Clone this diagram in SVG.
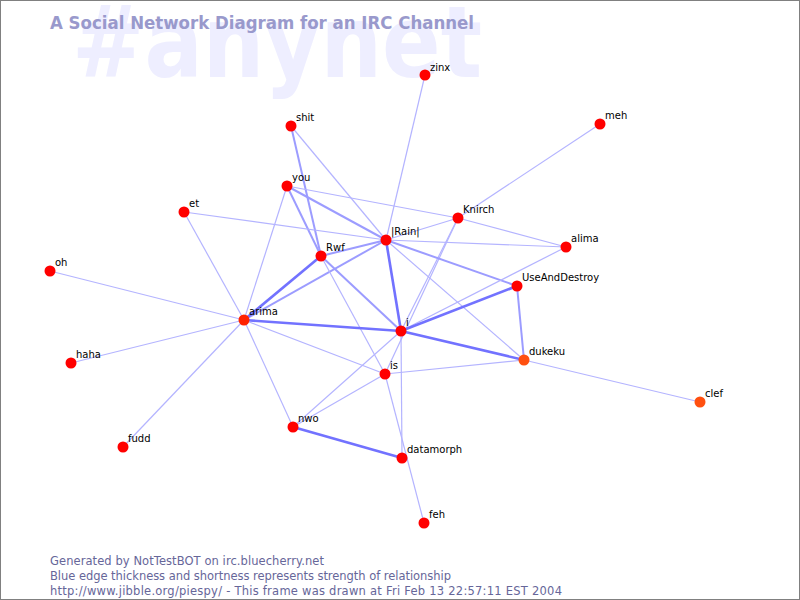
<svg xmlns="http://www.w3.org/2000/svg" width="800" height="600" viewBox="0 0 800 600">
<style>
.bg{font-family:"DejaVu Sans",sans-serif;font-weight:bold;font-size:100px;fill:#eeeeff}
.title{font-family:"DejaVu Sans",sans-serif;font-weight:bold;font-size:17px;fill:#9999cc}
.foot{font-family:"DejaVu Sans",sans-serif;font-size:11.5px;fill:#666699}
.lbl{font-family:"DejaVu Sans",sans-serif;font-size:10px;fill:#000}
.n{fill:#ff0000}
.o{fill:#ff5010}
.a{fill:#ff2200}
.e1{stroke:#b4b4ff;stroke-width:1.2;fill:none}
.e2{stroke:#9c9cff;stroke-width:2;fill:none}
.e3{stroke:#7272ff;stroke-width:2.6;fill:none}
</style>
<rect x="0" y="0" width="800" height="600" fill="#ffffff"/>
<rect x="0.5" y="0.5" width="799" height="599" fill="none" stroke="#808080"/>
<text class="bg" x="72" y="77" textLength="410" lengthAdjust="spacingAndGlyphs">#anynet</text>
<text class="title" x="50" y="29" textLength="424" lengthAdjust="spacingAndGlyphs">A Social Network Diagram for an IRC Channel</text>
<g id="edges">
<line class="e1" x1="425" y1="75" x2="386" y2="240"/>
<line class="e1" x1="291" y1="126" x2="386" y2="240"/>
<line class="e2" x1="291" y1="126" x2="321" y2="256"/>
<line class="e1" x1="600" y1="124" x2="458" y2="218"/>
<line class="e1" x1="287" y1="186" x2="458" y2="218"/>
<line class="e2" x1="287" y1="186" x2="386" y2="240"/>
<line class="e2" x1="287" y1="186" x2="321" y2="256"/>
<line class="e1" x1="287" y1="186" x2="244" y2="320"/>
<line class="e1" x1="184" y1="212" x2="386" y2="240"/>
<line class="e1" x1="184" y1="212" x2="244" y2="320"/>
<line class="e1" x1="458" y1="218" x2="386" y2="240"/>
<line class="e1" x1="458" y1="218" x2="566" y2="247"/>
<line class="e1" x1="458" y1="218" x2="401" y2="331"/>
<line class="e1" x1="458" y1="218" x2="385" y2="374"/>
<line class="e1" x1="386" y1="240" x2="566" y2="247"/>
<line class="e2" x1="386" y1="240" x2="321" y2="256"/>
<line class="e2" x1="386" y1="240" x2="244" y2="320"/>
<line class="e3" x1="386" y1="240" x2="401" y2="331"/>
<line class="e2" x1="386" y1="240" x2="517" y2="286"/>
<line class="e1" x1="386" y1="240" x2="524" y2="360"/>
<line class="e1" x1="566" y1="247" x2="401" y2="331"/>
<line class="e3" x1="321" y1="256" x2="244" y2="320"/>
<line class="e2" x1="321" y1="256" x2="401" y2="331"/>
<line class="e1" x1="321" y1="256" x2="385" y2="374"/>
<line class="e1" x1="50" y1="271" x2="244" y2="320"/>
<line class="e1" x1="71" y1="363" x2="244" y2="320"/>
<line class="e1" x1="123" y1="447" x2="244" y2="320"/>
<line class="e3" x1="244" y1="320" x2="401" y2="331"/>
<line class="e1" x1="244" y1="320" x2="385" y2="374"/>
<line class="e1" x1="244" y1="320" x2="293" y2="427"/>
<line class="e3" x1="517" y1="286" x2="401" y2="331"/>
<line class="e2" x1="517" y1="286" x2="524" y2="360"/>
<line class="e3" x1="401" y1="331" x2="524" y2="360"/>
<line class="e1" x1="401" y1="331" x2="293" y2="427"/>
<line class="e1" x1="401" y1="331" x2="402" y2="458"/>
<line class="e1" x1="385" y1="374" x2="524" y2="360"/>
<line class="e1" x1="385" y1="374" x2="293" y2="427"/>
<line class="e1" x1="385" y1="374" x2="424" y2="523"/>
<line class="e1" x1="524" y1="360" x2="700" y2="402"/>
<line class="e3" x1="293" y1="427" x2="402" y2="458"/>
</g>
<g id="zinx"><circle class="n" cx="425" cy="75" r="5.5"/><text class="lbl" x="430" y="71">zinx</text></g>
<g id="shit"><circle class="n" cx="291" cy="126" r="5.5"/><text class="lbl" x="296" y="121">shit</text></g>
<g id="meh"><circle class="n" cx="600" cy="124" r="5.5"/><text class="lbl" x="605" y="119">meh</text></g>
<g id="you"><circle class="n" cx="287" cy="186" r="5.5"/><text class="lbl" x="292" y="181">you</text></g>
<g id="et"><circle class="n" cx="184" cy="212" r="5.5"/><text class="lbl" x="189" y="207">et</text></g>
<g id="Knirch"><circle class="n" cx="458" cy="218" r="5.5"/><text class="lbl" x="463" y="213">Knirch</text></g>
<g id="Rain"><circle class="n" cx="386" cy="240" r="5.5"/><text class="lbl" x="391" y="235">|Rain|</text></g>
<g id="alima"><circle class="n" cx="566" cy="247" r="5.5"/><text class="lbl" x="571" y="242">alima</text></g>
<g id="Rwf"><circle class="n" cx="321" cy="256" r="5.5"/><text class="lbl" x="326" y="251">Rwf</text></g>
<g id="oh"><circle class="n" cx="50" cy="271" r="5.5"/><text class="lbl" x="55" y="266">oh</text></g>
<g id="UseAndDestroy"><circle class="n" cx="517" cy="286" r="5.5"/><text class="lbl" x="522" y="281">UseAndDestroy</text></g>
<g id="arima"><circle class="a" cx="244" cy="320" r="5.5"/><text class="lbl" x="249" y="315">arima</text></g>
<g id="i"><circle class="n" cx="401" cy="331" r="5.5"/><text class="lbl" x="406" y="326">i</text></g>
<g id="haha"><circle class="n" cx="71" cy="363" r="5.5"/><text class="lbl" x="76" y="358">haha</text></g>
<g id="dukeku"><circle class="o" cx="524" cy="360" r="5.5"/><text class="lbl" x="529" y="355">dukeku</text></g>
<g id="is"><circle class="n" cx="385" cy="374" r="5.5"/><text class="lbl" x="390" y="369">is</text></g>
<g id="clef"><circle class="o" cx="700" cy="402" r="5.5"/><text class="lbl" x="705" y="397">clef</text></g>
<g id="nwo"><circle class="n" cx="293" cy="427" r="5.5"/><text class="lbl" x="298" y="422">nwo</text></g>
<g id="fudd"><circle class="n" cx="123" cy="447" r="5.5"/><text class="lbl" x="128" y="442">fudd</text></g>
<g id="datamorph"><circle class="n" cx="402" cy="458" r="5.5"/><text class="lbl" x="407" y="453">datamorph</text></g>
<g id="feh"><circle class="n" cx="424" cy="523" r="5.5"/><text class="lbl" x="429" y="518">feh</text></g>
<text class="foot" x="50" y="565" textLength="274" lengthAdjust="spacing">Generated by NotTestBOT on irc.bluecherry.net</text>
<text class="foot" x="50" y="580" textLength="401" lengthAdjust="spacing">Blue edge thickness and shortness represents strength of relationship</text>
<text class="foot" x="50" y="595" textLength="512" lengthAdjust="spacing">http://www.jibble.org/piespy/ - This frame was drawn at Fri Feb 13 22:57:11 EST 2004</text>
</svg>
